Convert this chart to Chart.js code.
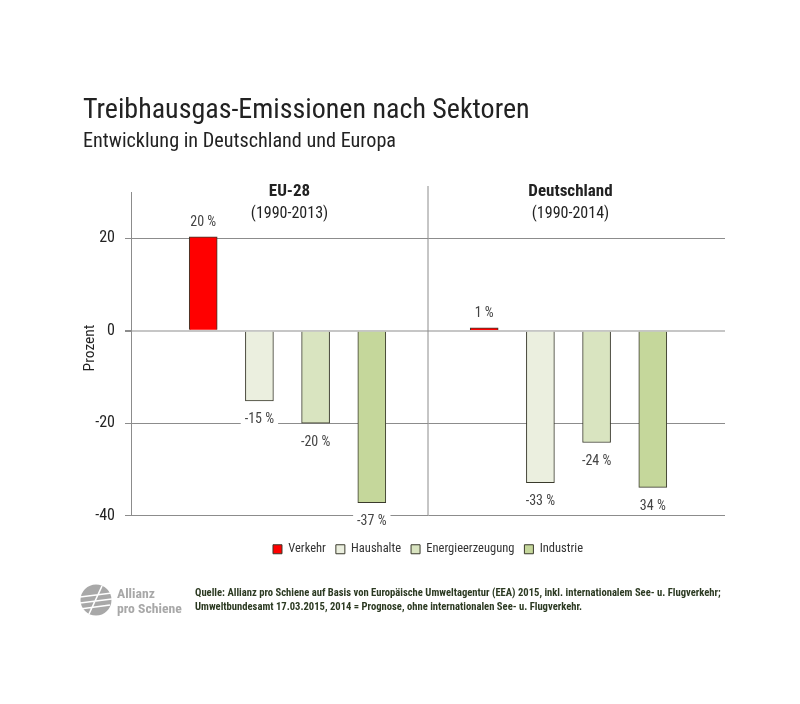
<!DOCTYPE html>
<html lang="de">
<head>
<meta charset="utf-8">
<title>Treibhausgas-Emissionen nach Sektoren</title>
<script src="https://cdn.jsdelivr.net/npm/chart.js@4"></script>
<style>
    html, body { margin: 0; padding: 0; background: #fff; }
    body { width: 800px; height: 704px; position: relative; overflow: hidden; font-family: "Roboto Condensed", Roboto, sans-serif; }
    #chart { position: absolute; left: 0; top: 0; }
    .txt { position: absolute; white-space: nowrap; }
    #title { left: 83px; top: 92px; font-size: 28px; color: #222; }
    #subtitle { left: 83px; top: 128px; font-size: 20.2px; color: #222; }
    #source { left: 195px; top: 585.5px; font-size: 10.6px; line-height: 14.5px; color: #2c3a22; font-weight: bold; }
    #logoText { left: 117px; top: 586px; font-size: 13.7px; line-height: 15px; color: #a8a8a8; font-weight: bold; }
    #logo { position: absolute; left: 80px; top: 584px; }
</style>
</head>
<body>
<canvas id="chart" width="800" height="704"></canvas>
<div class="txt" id="title">Treibhausgas-Emissionen nach Sektoren</div>
<div class="txt" id="subtitle">Entwicklung in Deutschland und Europa</div>
<svg id="logo" width="32" height="32" viewBox="0 0 32 32">
    <circle cx="16" cy="16" r="15.5" fill="#a8a8a8"/>
    <path d="M0 13 L32 9 M0 19 L32 15 M0 25 L30 21 M9 30 L22 2" stroke="#fff" stroke-width="1.6" fill="none"/>
</svg>
<div class="txt" id="logoText">Allianz<br>pro Schiene</div>
<div class="txt" id="source">Quelle: Allianz pro Schiene auf Basis von Europäische Umweltagentur (EEA) 2015, inkl. internationalem See- u. Flugverkehr;<br>Umweltbundesamt 17.03.2015, 2014 = Prognose, ohne internationalen See- u. Flugverkehr.</div>

<script>
const regions = ["EU-28", "Deutschland"];
const periods = ["(1990-2013)", "(1990-2014)"];
const sectors = ["Verkehr", "Haushalte", "Energieerzeugung", "Industrie"];

const verkehr = [20.3, 0.6];
const haushalte = [-15.2, -32.9];
const energie = [-20, -24.2];
const industrie = [-37.2, -33.9];

const verkehrLabels = ["20 %", "1 %"];
const haushalteLabels = ["-15 %", "-33 %"];
const energieLabels = ["-20 %", "-24 %"];
const industrieLabels = ["-37 %", "34 %"];

const yTicks = [-40, -20, 0, 20];

const fontName = '"Roboto Condensed", Roboto, sans-serif';
const colors = ["#ff0000", "#ebefdf", "#d9e4c0", "#c5d79b"];
const seriesValues = [verkehr, haushalte, energie, industrie];
const seriesLabels = [verkehrLabels, haushalteLabels, energieLabels, industrieLabels];

// each region takes 4 slots on the x axis, plus one empty slot in the middle
function slot(region, sector) {
    return region * 5 + sector;
}

const datasets = sectors.map(function (name, s) {
    return {
        label: name,
        data: seriesValues[s].map((v, r) => ({ x: slot(r, s), y: v })),
        backgroundColor: colors[s],
        borderColor: "#3a3a2c",
        borderWidth: 1,
        barThickness: 28
    };
});

const panelPlugin = {
    id: "panels",
    beforeDatasetsDraw(chart) {
        const { ctx, scales } = chart;
        const x = scales.x.getPixelForValue(4);
        ctx.save();
        ctx.strokeStyle = "#8c8c8c";
        ctx.lineWidth = 1;
        ctx.beginPath();
        ctx.moveTo(x, scales.y.top - 6);
        ctx.lineTo(x, scales.y.bottom);
        ctx.stroke();
        ctx.restore();
    },
    afterDraw(chart) {
        const { ctx, scales } = chart;
        ctx.save();
        ctx.textAlign = "center";
        ctx.textBaseline = "middle";
        ctx.fillStyle = "#222";
        regions.forEach(function (name, r) {
            const x = scales.x.getPixelForValue(slot(r, 1.5)) + 2;
            ctx.font = "bold 17px " + fontName;
            ctx.fillText(name, x, 191.5);
            ctx.font = "16px " + fontName;
            ctx.fillText(periods[r], x, 213.5);
        });
        // axis name, sits a bit above the middle of the plot
        ctx.translate(90, 348);
        ctx.rotate(-Math.PI / 2);
        ctx.font = "15.5px " + fontName;
        ctx.fillText("Prozent", 0, 0);
        ctx.restore();
    }
};

const valueLabelPlugin = {
    id: "valueLabels",
    afterDatasetsDraw(chart) {
        const { ctx } = chart;
        ctx.save();
        ctx.font = "14px " + fontName;
        ctx.textAlign = "center";
        ctx.textBaseline = "middle";
        chart.data.datasets.forEach(function (ds, s) {
            chart.getDatasetMeta(s).data.forEach(function (bar, r) {
                const text = seriesLabels[s][r];
                const up = ds.data[r].y > 0;
                const y = bar.y + (up ? -14 : 19);
                const w = ctx.measureText(text).width + 8;
                ctx.fillStyle = "#fff";
                ctx.fillRect(bar.x - w / 2, y - 8, w, 16);
                ctx.fillStyle = "#444";
                ctx.fillText(text, bar.x, y);
            });
        });
        ctx.restore();
    }
};

new Chart(document.getElementById("chart"), {
    type: "bar",
    data: { datasets: datasets },
    plugins: [panelPlugin, valueLabelPlugin],
    options: {
        responsive: false,
        animation: false,
        grouped: false,
        layout: { padding: { left: 81, right: 75, top: 192, bottom: 138.5 } },
        scales: {
            x: {
                type: "linear",
                offset: false,
                min: -1.285,
                max: 9.285,
                grid: { display: false },
                border: { display: false },
                ticks: { display: false },
                afterFit(axis) { axis.height = 17.5; }
            },
            y: {
                min: -40,
                max: 30,
                afterBuildTicks(axis) { axis.ticks = yTicks.map(v => ({ value: v })); },
                afterFit(axis) { axis.width = 50; },
                grid: {
                    color: c => (c.tick.value === 0 ? "#c6c6c6" : "#8c8c8c"),
                    lineWidth: c => (c.tick.value === 0 ? 2 : 1),
                    tickColor: "#8c8c8c",
                    tickLength: 6
                },
                border: { color: "#8c8c8c" },
                ticks: {
                    color: "#222",
                    padding: 10,
                    font: { family: fontName, size: 16 },
                    callback: v => String(v)
                }
            }
        },
        plugins: {
            tooltip: { enabled: false },
            legend: {
                position: "bottom",
                fullSize: false,
                labels: {
                    boxWidth: 9,
                    boxHeight: 9,
                    padding: 10,
                    color: "#333",
                    font: { family: fontName, size: 12.5 }
                }
            }
        }
    }
});
</script>
</body>
</html>
